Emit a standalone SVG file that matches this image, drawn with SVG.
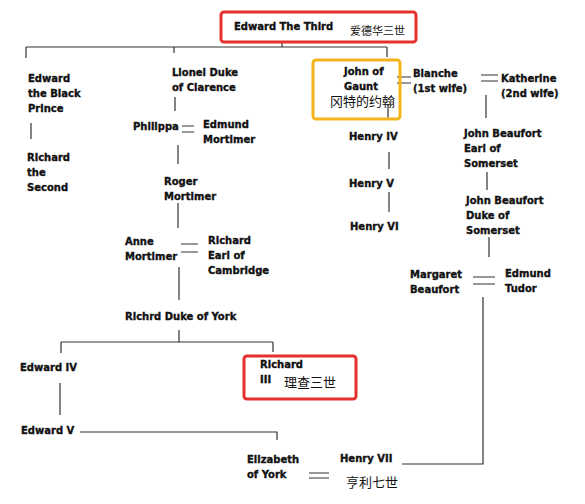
<svg xmlns="http://www.w3.org/2000/svg" width="585" height="504" viewBox="0 0 585 504">
<style>
text{font-family:"DejaVu Sans","Liberation Sans",sans-serif;font-weight:bold;font-size:10px;fill:#111;stroke:#111;stroke-width:0.35}
text.cn{font-family:"Noto Sans CJK SC","Noto Sans",sans-serif;font-weight:normal;font-size:11px;stroke:none}
.ln{stroke:#333;stroke-width:1.2;fill:none}
.red{fill:none;stroke:#e5312b;stroke-width:3}
.org{fill:none;stroke:#f5b41c;stroke-width:3}
</style>
<rect width="585" height="504" fill="#fff"/>
<g id="connectors" class="ln">
<path d="M282 42V47M26 47H387M26 47V58M174 47V53M387 47V57"/>
<path d="M31 123V139"/>
<path d="M175 97V111M182 126H194M182 132H194M178 145V164"/>
<path d="M178 203V228M181 244H198M181 252H198M179 267V300"/>
<path d="M179 330V342M61 342H273M61 342V353M273 342V352"/>
<path d="M60 383V415M80 432H277V440"/>
<path d="M309 473H329M309 478H329M402 464H483V297"/>
<path d="M388 104V118M397 77H411M397 83H411M481 75H498M481 81H498M486 95V118"/>
<path d="M487 172V190M489 237V257M473 277H495M473 284H495"/>
<path d="M389 152V169M389 192V212"/>
</g>
<g id="edward-iii">
<rect class="red" x="221" y="12" width="195" height="30" rx="3"/>
<text x="234" y="30">Edward The Third</text>
<text class="cn" x="350" y="35">爱德华三世</text>
</g>
<g id="black-prince">
<text x="28" y="82">Edward</text>
<text x="28" y="97">the Black</text>
<text x="28" y="112">Prince</text>
</g>
<g id="richard-ii">
<text x="27" y="161">Richard</text>
<text x="27" y="176">the</text>
<text x="27" y="191">Second</text>
</g>
<g id="lionel">
<text x="172" y="76">Lionel Duke</text>
<text x="172" y="91">of Clarence</text>
</g>
<g id="philippa"><text x="133" y="130">Philippa</text></g>
<g id="edmund-mortimer">
<text x="203" y="128">Edmund</text>
<text x="203" y="143">Mortimer</text>
</g>
<g id="roger-mortimer">
<text x="164" y="185">Roger</text>
<text x="164" y="200">Mortimer</text>
</g>
<g id="anne-mortimer">
<text x="125" y="245">Anne</text>
<text x="125" y="260">Mortimer</text>
</g>
<g id="richard-cambridge">
<text x="208" y="244">Richard</text>
<text x="208" y="259">Earl of</text>
<text x="208" y="274">Cambridge</text>
</g>
<g id="richard-york"><text x="125" y="320">Richrd Duke of York</text></g>
<g id="edward-iv"><text x="20" y="371">Edward IV</text></g>
<g id="edward-v"><text x="21" y="434">Edward V</text></g>
<g id="richard-iii">
<rect class="red" x="244" y="356" width="112" height="43" rx="3"/>
<text x="260" y="368">Richard</text>
<text x="260" y="383">III</text>
<text class="cn" x="284" y="387" style="font-size:13px">理查三世</text>
</g>
<g id="elizabeth-york">
<text x="247" y="463">Elizabeth</text>
<text x="247" y="478">of York</text>
</g>
<g id="henry-vii">
<text x="340" y="462">Henry VII</text>
<text class="cn" x="346" y="487" style="font-size:13px">亨利七世</text>
</g>
<g id="john-of-gaunt">
<rect class="org" x="313" y="60" width="87" height="59" rx="3"/>
<text x="344" y="75">John of</text>
<text x="344" y="90">Gaunt</text>
<text class="cn" x="330" y="106" style="font-size:13px">冈特的约翰</text>
</g>
<g id="blanche">
<text x="413" y="77">Blanche</text>
<text x="413" y="92">(1st wife)</text>
</g>
<g id="katherine">
<text x="501" y="82">Katherine</text>
<text x="501" y="97">(2nd wife)</text>
</g>
<g id="henry-iv"><text x="349" y="140">Henry IV</text></g>
<g id="henry-v"><text x="349" y="187">Henry V</text></g>
<g id="henry-vi"><text x="350" y="230">Henry VI</text></g>
<g id="john-beaufort-earl">
<text x="464" y="137">John Beaufort</text>
<text x="464" y="152">Earl of</text>
<text x="464" y="167">Somerset</text>
</g>
<g id="john-beaufort-duke">
<text x="466" y="204">John Beaufort</text>
<text x="466" y="219">Duke of</text>
<text x="466" y="234">Somerset</text>
</g>
<g id="margaret-beaufort">
<text x="410" y="278">Margaret</text>
<text x="410" y="293">Beaufort</text>
</g>
<g id="edmund-tudor">
<text x="505" y="277">Edmund</text>
<text x="505" y="292">Tudor</text>
</g>
</svg>
